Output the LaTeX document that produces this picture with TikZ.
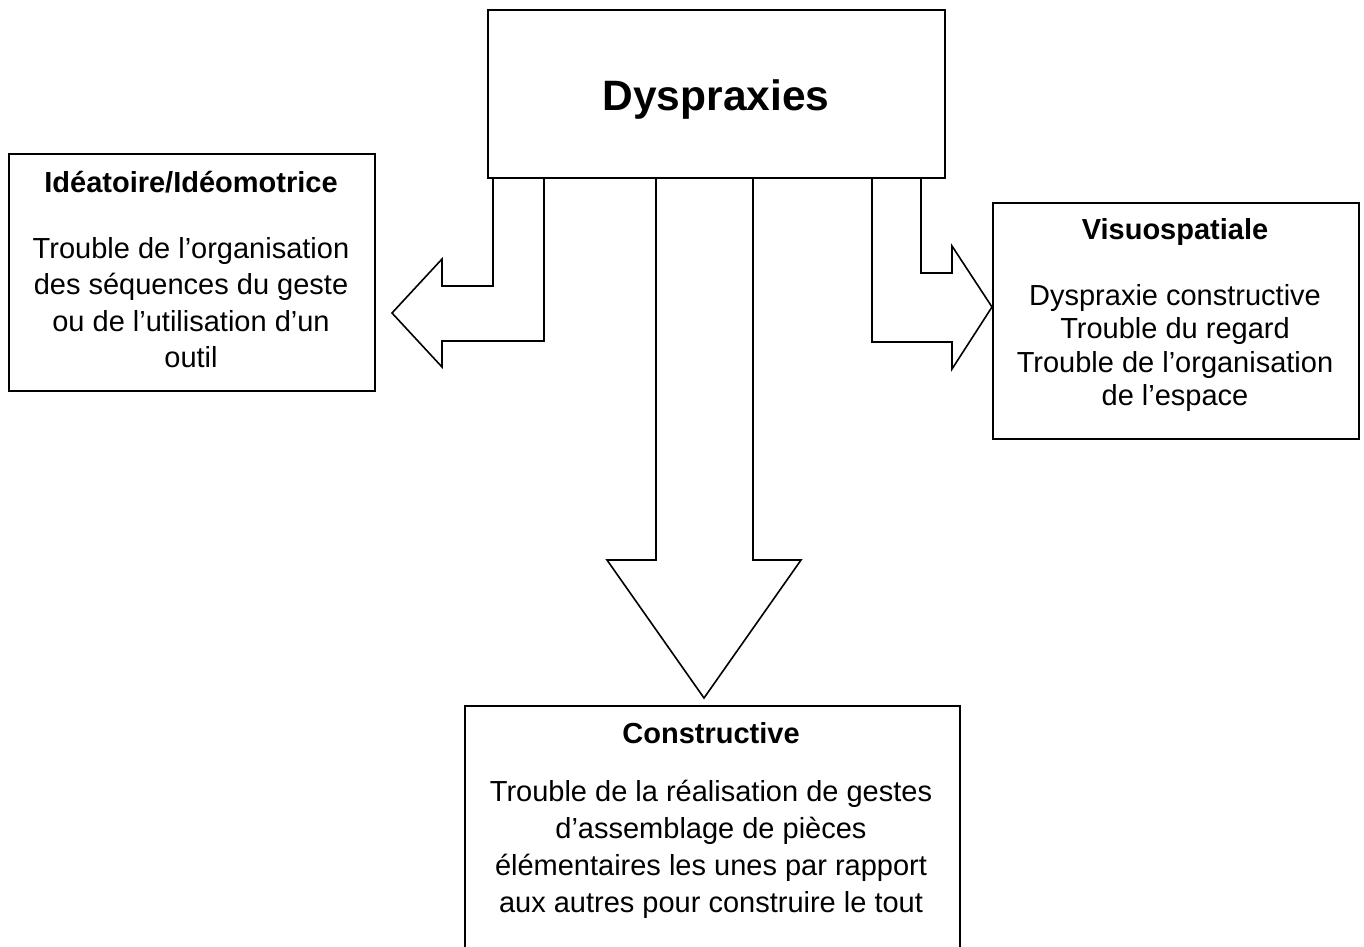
\documentclass[tikz,border=0pt]{standalone}
\usepackage{fontspec}
\setmainfont{Liberation Sans}
\begin{document}
\begin{tikzpicture}[x=1pt,y=-1pt,
  frame/.style={draw=black, line width=1.6pt, fill=white, inner sep=0pt, anchor=north west},
  blockarrow/.style={draw=black, line width=1.6pt, fill=white, line join=miter},
  bodyline/.style={inner sep=0pt, anchor=base, font=\fontsize{29}{34}\selectfont},
  titleline/.style={inner sep=0pt, anchor=base, font=\bfseries\fontsize{29}{34}\selectfont}]
\useasboundingbox (0,0) rectangle (1364,946);
\clip (0,0) rectangle (1364,946);
\fill[white] (0,0) rectangle (1364,946);

% block arrows (drawn first, boxes cover their open ends)
\draw[blockarrow] (493,177) -- (493,286) -- (442,286) -- (442,259) -- (392,313)
  -- (442,367) -- (442,341) -- (544,341) -- (544,177);
\draw[blockarrow] (872,177) -- (872,342) -- (952,342) -- (952,369) -- (992,307)
  -- (952,246) -- (952,273) -- (921,273) -- (921,177);
\draw[blockarrow] (656,177) -- (656,560) -- (607,560) -- (704,698) -- (801,560)
  -- (753,560) -- (753,177);

% boxes
\node[frame, minimum width=457pt, minimum height=168pt] (dys) at (487,9) {};
\node[frame, minimum width=366pt, minimum height=237pt] (ide) at (8,153) {};
\node[frame, minimum width=366pt, minimum height=236pt] (vis) at (992,202) {};
\node[frame, minimum width=495pt, minimum height=300pt] (con) at (464,705) {};

% texts
\node[inner sep=0pt, anchor=base, font=\bfseries\fontsize{42.5}{48}\selectfont] (dyst) at (716,110) {Dyspraxies};

\node[titleline] (idet) at (191,192) {Idéatoire/Idéomotrice};
\node[bodyline] (ide1) at (191,258) {Trouble de l’organisation};
\node[bodyline] (ide2) at (191,294.5) {des séquences du geste};
\node[bodyline] (ide3) at (191,331) {ou de l’utilisation d’un};
\node[bodyline] (ide4) at (191,367.5) {outil};

\node[titleline] (vist) at (1175,239) {Visuospatiale};
\node[bodyline] (vis1) at (1175,305) {Dyspraxie constructive};
\node[bodyline] (vis2) at (1175,338.5) {Trouble du regard};
\node[bodyline] (vis3) at (1175,372) {Trouble de l’organisation};
\node[bodyline] (vis4) at (1175,405.5) {de l’espace};

\node[titleline] (cont) at (711,743) {Constructive};
\node[bodyline] (con1) at (711,801) {Trouble de la réalisation de gestes};
\node[bodyline] (con2) at (711,838) {d’assemblage de pièces};
\node[bodyline] (con3) at (711,875) {élémentaires les unes par rapport};
\node[bodyline] (con4) at (711,912) {aux autres pour construire le tout};
\end{tikzpicture}
\end{document}
